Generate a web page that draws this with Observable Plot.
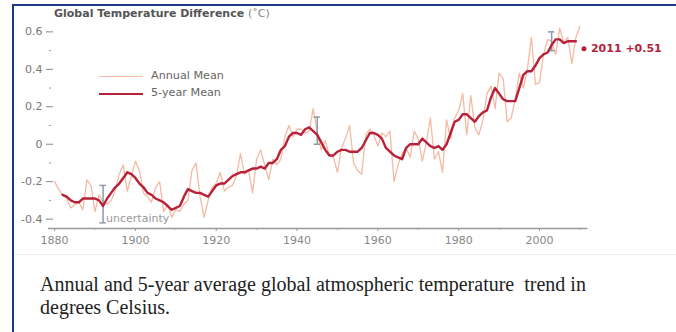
<!DOCTYPE html>
<html><head><meta charset="utf-8">
<script src="https://cdn.jsdelivr.net/npm/d3@7"></script>
<script src="https://cdn.jsdelivr.net/npm/@observablehq/plot@0.6"></script>
<style>
html,body{margin:0;padding:0;background:#fff;}
body{width:676px;height:332px;position:relative;overflow:hidden;}
#frame{position:absolute;left:12px;top:4px;width:664px;height:328px;border-left:2px solid #1b3a86;border-top:2px solid #1b3a86;box-sizing:border-box;}
#chart{position:absolute;left:0;top:0;}
#title{position:absolute;left:54px;top:7px;font:bold 11px "DejaVu Sans";color:#555;white-space:nowrap;}
#title span{font-weight:normal;color:#888;}
#caption{position:absolute;left:40px;top:273px;font:20px "Liberation Serif";line-height:23px;color:#222;white-space:nowrap;}
.leg{position:absolute;font:11.2px "DejaVu Sans";color:#666;white-space:nowrap;}
.legline{position:absolute;width:44px;}
#sep{position:absolute;left:14px;top:254px;width:662px;border-top:1px solid #eee;}
</style></head><body>
<div id="chart"></div>
<div id="frame"></div>
<div id="sep"></div>
<div id="title">Global Temperature Difference <span>(˚C)</span></div>
<div class="legline" style="left:99px;top:76px;border-top:1.5px solid #f5b9a0;"></div>
<div class="leg" style="left:151px;top:69px;">Annual Mean</div>
<div class="legline" style="left:99px;top:93px;border-top:2.5px solid #b8213a;"></div>
<div class="leg" style="left:151px;top:86px;">5-year Mean</div>
<div id="caption">Annual and 5-year average global atmospheric temperature&nbsp; trend in<br>degrees Celsius.</div>
<script>
// Annual mean anomaly, 1880..2010
const annualStart = 1880;
const annual = [
 -0.20,-0.24,-0.27,-0.29,-0.34,-0.32,-0.31,-0.35,-0.19,-0.22,
 -0.36,-0.27,-0.31,-0.32,-0.30,-0.25,-0.16,-0.11,-0.25,-0.17,
 -0.09,-0.14,-0.26,-0.28,-0.31,-0.23,-0.20,-0.36,-0.32,-0.39,
 -0.35,-0.36,-0.32,-0.30,-0.14,-0.10,-0.28,-0.39,-0.30,-0.23,
 -0.21,-0.15,-0.25,-0.23,-0.22,-0.17,-0.05,-0.16,-0.14,-0.26,
 -0.08,-0.03,-0.11,-0.19,-0.08,-0.11,-0.08,0.04,0.10,0.04,
 0.08,0.08,0.06,0.07,0.19,0.06,-0.03,0.02,-0.06,-0.07,
 -0.15,-0.02,0.03,0.10,-0.10,-0.14,-0.16,0.05,0.08,0.05,
 -0.01,0.06,0.04,0.07,-0.20,-0.11,-0.05,-0.02,-0.07,0.07,
 0.03,-0.09,0.01,0.14,-0.08,-0.04,-0.15,0.13,0.03,0.14,
 0.18,0.27,0.05,0.26,0.09,0.05,0.13,0.27,0.31,0.19,
 0.38,0.35,0.12,0.14,0.24,0.38,0.30,0.40,0.57,0.32,
 0.33,0.48,0.56,0.55,0.48,0.62,0.54,0.57,0.43,0.57,
 0.63
];
// 5-year running mean, 1882..2009
const fiveStart = 1882;
const fiveYear = [
 -0.27,-0.28,-0.30,-0.31,-0.31,-0.29,-0.29,-0.29,
 -0.29,-0.30,-0.33,-0.29,-0.26,-0.23,-0.21,-0.18,-0.15,-0.16,
 -0.18,-0.21,-0.23,-0.26,-0.27,-0.29,-0.30,-0.31,-0.33,-0.35,
 -0.34,-0.33,-0.28,-0.24,-0.25,-0.26,-0.26,-0.27,-0.28,-0.25,
 -0.22,-0.21,-0.21,-0.19,-0.17,-0.16,-0.15,-0.15,-0.14,-0.13,
 -0.13,-0.12,-0.13,-0.10,-0.10,-0.08,-0.03,-0.01,0.04,0.06,
 0.06,0.05,0.08,0.09,0.07,0.05,0.01,-0.03,-0.06,-0.06,
 -0.04,-0.03,-0.03,-0.04,-0.04,-0.04,-0.02,0.02,0.06,0.06,
 0.05,0.03,-0.02,-0.04,-0.06,-0.07,-0.08,-0.02,0.00,0.00,
 0.00,0.03,0.01,-0.01,-0.02,-0.01,-0.03,0.00,0.06,0.12,
 0.13,0.16,0.16,0.14,0.12,0.15,0.17,0.18,0.25,0.30,
 0.27,0.24,0.23,0.23,0.23,0.30,0.37,0.39,0.39,0.42,
 0.46,0.48,0.49,0.53,0.56,0.56,0.54,0.55,0.55,0.55
];
// uncertainty bars
const uncYears = [1892, 1945, 2003];
const uncLow = [-0.42, 0.00, 0.50];
const uncHigh = [-0.22, 0.145, 0.60];
// latest value annotation
const lastYear = 2011;
const lastValue = 0.51;
const lastLabel = "2011 +0.51";
// ticks
const majorY = [0.6, 0.4, 0.2, 0, -0.2, -0.4];
const minorY = [0.5, 0.3, 0.1, -0.1, -0.3];
const majorX = [1880, 1900, 1920, 1940, 1960, 1980, 2000];
const minorX = [1890, 1910, 1930, 1950, 1970, 1990, 2010];

const annualData = annual.map((v, i) => ({year: annualStart + i, value: v}));
const fiveData = fiveYear.map((v, i) => ({year: fiveStart + i, value: v}));
const unc = uncYears.map((y, i) => ({year: y, low: uncLow[i], high: uncHigh[i]}));

const red = "#b8213a";
const uncColor = "#8d9ba8";

const chart = Plot.plot({
  width: 676, height: 258,
  marginLeft: 46, marginRight: 88.5, marginTop: 22, marginBottom: 30,
  x: {domain: [1878, 2012], label: null},
  y: {domain: [-0.45, 0.65], label: null},
  style: {fontFamily: "DejaVu Sans", fontSize: "11px", color: "#777", background: "transparent", overflow: "visible"},
  marks: [
    Plot.axisY(majorY, {tickSize: 7, dx: 7, tickPadding: 4, stroke: "#888", fill: "#777", fontSize: 11,
      tickFormat: d => d === 0 ? "0" : d.toFixed(1), label: null}),
    Plot.axisY(minorY, {tickSize: 2, dx: 5, text: null, stroke: "#999", label: null}),
    Plot.ruleY([-0.45], {x1: 1878.5, x2: 2012, stroke: "#999", strokeWidth: 1.4}),
    Plot.axisX(majorX, {tickSize: 3, tickPadding: 5, stroke: "#999", fill: "#888", fontSize: 11,
      tickFormat: d => String(d), label: null}),
    Plot.axisX(minorX, {tickSize: 2, text: null, stroke: "#aaa", label: null}),
    Plot.line(annualData, {x: "year", y: "value", stroke: "#f6b9a1", strokeWidth: 1.3}),
    Plot.ruleX(unc, {x: "year", y1: "low", y2: "high", stroke: uncColor, strokeWidth: 1.5}),
    Plot.ruleY(unc, {y: "low", x1: d => d.year - 0.8, x2: d => d.year + 0.8, stroke: uncColor, strokeWidth: 1.5}),
    Plot.ruleY(unc, {y: "high", x1: d => d.year - 0.8, x2: d => d.year + 0.8, stroke: uncColor, strokeWidth: 1.5}),
    Plot.text(unc.slice(0, 1), {x: "year", y: "low", text: () => "uncertainty", textAnchor: "start", dx: 3, dy: -4, fill: "#999", fontSize: 11}),
    Plot.line(fiveData, {x: "year", y: "value", stroke: red, strokeWidth: 2.4}),
    Plot.dot([{year: lastYear, value: lastValue}], {x: "year", y: "value", r: 2.5, fill: red, stroke: null}),
    Plot.text([{year: lastYear, value: lastValue}], {x: "year", y: "value", text: () => lastLabel, textAnchor: "start", dx: 7, fill: red, fontWeight: "bold", fontSize: 11})
  ]
});
document.getElementById("chart").appendChild(chart);
</script>
</body></html>
